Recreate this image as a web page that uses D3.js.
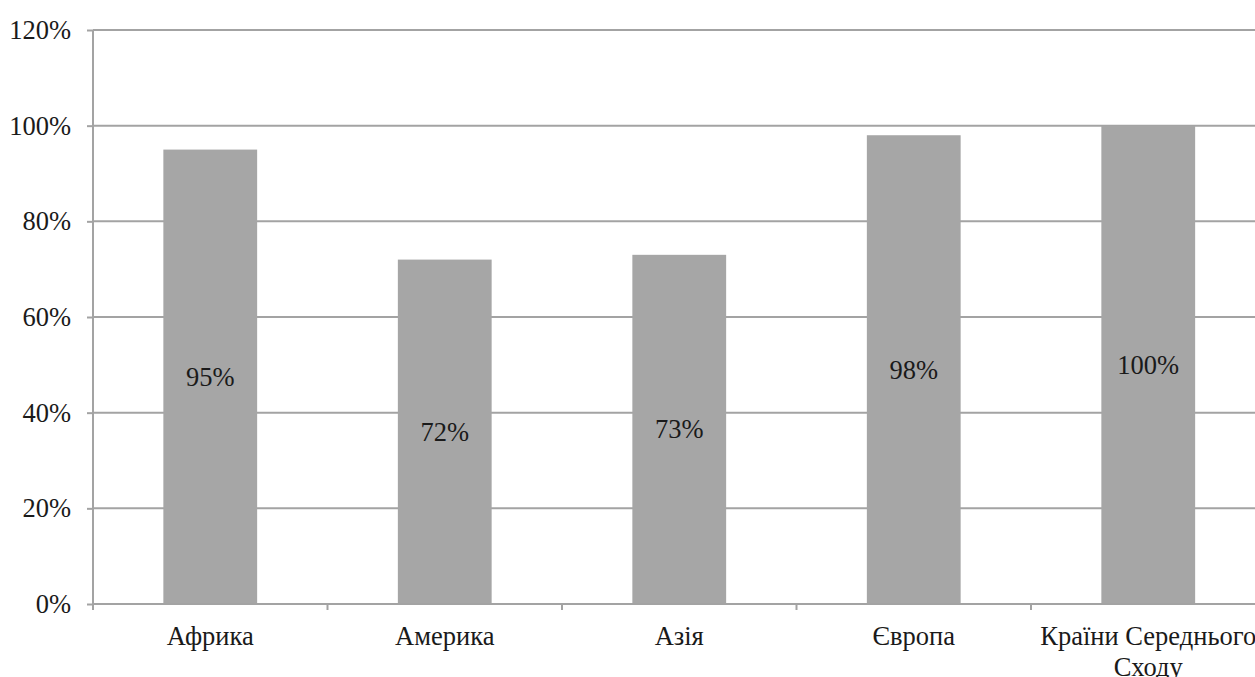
<!DOCTYPE html>
<html>
<head>
<meta charset="utf-8">
<script src="https://cdn.jsdelivr.net/npm/d3@7"></script>
<style>
  html, body { margin: 0; padding: 0; background: #fff; overflow: hidden; }
  svg { display: block; }
</style>
</head>
<body>
<svg id="chart" width="1255" height="677"></svg>
<script>
// Share by region
const categories = ["Африка", "Америка", "Азія", "Європа", "Країни Середнього Сходу"];
const values = [0.95, 0.72, 0.73, 0.98, 1.00];
const yTicks = [0, 0.2, 0.4, 0.6, 0.8, 1.0, 1.2];

const fontStack = "'Liberation Serif', 'Times New Roman', serif";
const textColor = "#1a1a1a";
const fontSize = 26.5;

const svg = d3.select("#chart");
const plotLeft = 93, plotTop = 30, plotBottom = 604;
const step = 234.5;
const plotRight = plotLeft + step * categories.length;

const x = d3.scaleBand()
  .domain(categories)
  .range([plotLeft, plotRight])
  .paddingInner(0.6)
  .paddingOuter(0.3);

const y = d3.scaleLinear().domain([0, 1.2]).range([plotBottom, plotTop]);

const lineColor = "#a3a3a3";
const barColor = "#a6a6a6";
const pct = d3.format(".0%");

// horizontal grid lines
svg.append("g").selectAll("line")
  .data(yTicks.filter(d => d > 0))
  .join("line")
  .attr("x1", plotLeft).attr("x2", plotRight)
  .attr("y1", d => y(d)).attr("y2", d => y(d))
  .attr("stroke", lineColor).attr("stroke-width", 2);

// bars
svg.append("g").selectAll("rect")
  .data(values)
  .join("rect")
  .attr("x", (d, i) => x(categories[i]))
  .attr("width", x.bandwidth())
  .attr("y", d => y(d))
  .attr("height", d => y(0) - y(d))
  .attr("fill", barColor);

// value labels in the middle of each bar
svg.append("g").selectAll("text")
  .data(values)
  .join("text")
  .attr("x", (d, i) => x(categories[i]) + x.bandwidth() / 2)
  .attr("y", d => (y(d) + y(0)) / 2)
  .attr("text-anchor", "middle")
  .attr("dominant-baseline", "central")
  .style("font-family", fontStack)
  .style("font-size", fontSize + "px")
  .style("fill", textColor)
  .text(d => pct(d));

// y axis
const yAxis = d3.axisLeft(y)
  .tickValues(yTicks)
  .tickFormat(pct)
  .tickSize(6)
  .tickPadding(16);
const gy = svg.append("g").attr("transform", `translate(${plotLeft},0)`).call(yAxis);
gy.select(".domain").attr("stroke", lineColor).attr("stroke-width", 2).attr("d", `M0,${plotTop}V${plotBottom + 6}`);
gy.selectAll(".tick line").attr("stroke", lineColor).attr("stroke-width", 2);
gy.selectAll(".tick text")
  .style("font-family", fontStack)
  .style("font-size", fontSize + "px")
  .style("fill", textColor);

// x axis line and category separators
svg.append("line")
  .attr("x1", plotLeft).attr("x2", plotRight)
  .attr("y1", plotBottom).attr("y2", plotBottom)
  .attr("stroke", lineColor).attr("stroke-width", 2);
svg.append("g").selectAll("line")
  .data(d3.range(categories.length + 1))
  .join("line")
  .attr("x1", i => plotLeft + i * x.step()).attr("x2", i => plotLeft + i * x.step())
  .attr("y1", plotBottom).attr("y2", plotBottom + 6)
  .attr("stroke", lineColor).attr("stroke-width", 2);

// category labels, wrapped to two lines when long
const catLabels = svg.append("g").selectAll("text")
  .data(categories)
  .join("text")
  .attr("x", d => x(d) + x.bandwidth() / 2)
  .attr("y", 645)
  .attr("text-anchor", "middle")
  .style("font-family", fontStack)
  .style("font-size", fontSize + "px")
  .style("fill", textColor);
catLabels.each(function(d) {
  const t = d3.select(this);
  const words = d.split(" ");
  const lines = words.length > 2 ? [words.slice(0, 2).join(" "), words.slice(2).join(" ")] : [d];
  lines.forEach((ln, k) => {
    t.append("tspan")
      .attr("x", t.attr("x"))
      .attr("dy", k === 0 ? 0 : 31)
      .text(ln);
  });
});
</script>
</body>
</html>
